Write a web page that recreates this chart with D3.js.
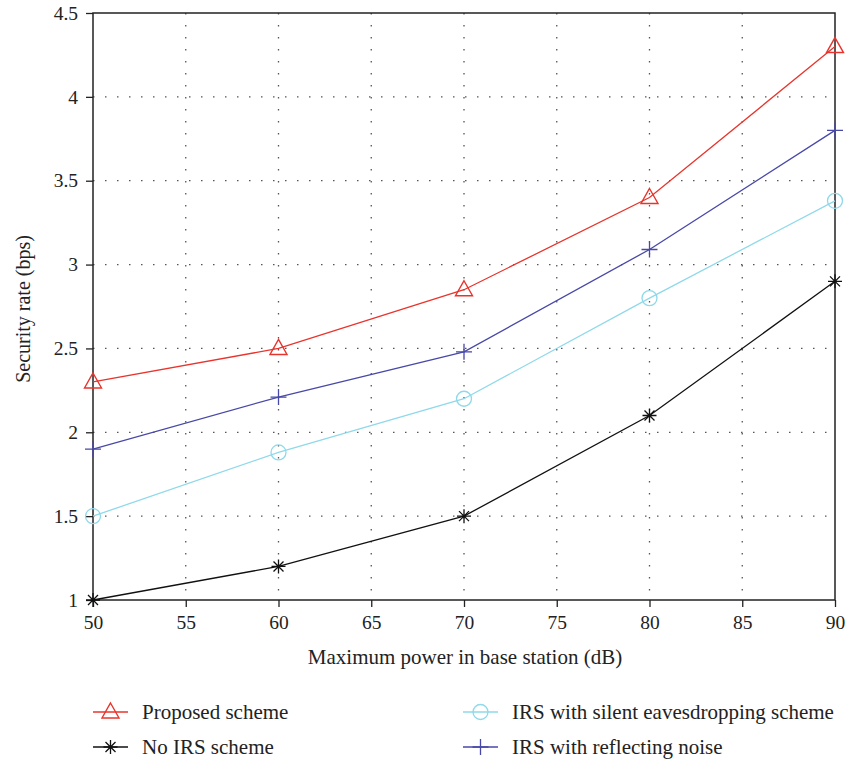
<!DOCTYPE html>
<html>
<head>
<meta charset="utf-8">
<script src="https://cdn.jsdelivr.net/npm/d3@7"></script>
<style>
  body { margin: 0; background: #fff; }
  svg text { font-family: "Liberation Serif", "DejaVu Serif", serif; fill: #222; }
</style>
</head>
<body>
<div id="chart"></div>
<script>
// data
const powers = [50, 60, 70, 80, 90];
const proposed = [2.3, 2.5, 2.85, 3.4, 4.3];
const noIrs = [1.0, 1.2, 1.5, 2.1, 2.9];
const silent = [1.5, 1.88, 2.2, 2.8, 3.38];
const reflecting = [1.9, 2.21, 2.48, 3.09, 3.8];
const xTicks = [50, 55, 60, 65, 70, 75, 80, 85, 90];
const yTicks = [1, 1.5, 2, 2.5, 3, 3.5, 4, 4.5];

const series = [
  { name: 'Proposed scheme', values: proposed, color: '#e8342c', marker: 'triangle' },
  { name: 'No IRS scheme', values: noIrs, color: '#111111', marker: 'star' },
  { name: 'IRS with silent eavesdropping scheme', values: silent, color: '#8fd9ea', marker: 'circle' },
  { name: 'IRS with reflecting noise', values: reflecting, color: '#4848a8', marker: 'plus' }
];

const W = 850, H = 764;
const margin = { top: 13, right: 15, bottom: 164, left: 93 };
const width = W - margin.left - margin.right;
const height = H - margin.top - margin.bottom;

const svg = d3.select('#chart').append('svg')
  .attr('width', W)
  .attr('height', H);

const g = svg.append('g')
  .attr('transform', 'translate(' + margin.left + ',' + margin.top + ')');

const x = d3.scaleLinear().domain([50, 90]).range([0, width]);
const y = d3.scaleLinear().domain([1, 4.5]).range([height, 0]);

// dotted grid
g.append('g').selectAll('line')
  .data(xTicks.slice(1, -1))
  .enter().append('line')
  .attr('x1', d => x(d)).attr('x2', d => x(d))
  .attr('y1', 0).attr('y2', height)
  .attr('stroke', '#555').attr('stroke-width', 1.3)
  .attr('stroke-dasharray', '1.5,10.5');

g.append('g').selectAll('line')
  .data(yTicks.slice(1, -1))
  .enter().append('line')
  .attr('x1', 0).attr('x2', width)
  .attr('y1', d => y(d)).attr('y2', d => y(d))
  .attr('stroke', '#555').attr('stroke-width', 1.3)
  .attr('stroke-dasharray', '1.5,10.5');

// axes
const xAxis = g.append('g')
  .attr('transform', 'translate(0,' + height + ')')
  .call(d3.axisBottom(x).tickValues(xTicks).tickSize(7).tickPadding(8).tickFormat(d3.format('d')));
const yAxis = g.append('g')
  .call(d3.axisLeft(y).tickValues(yTicks).tickSize(7).tickPadding(8).tickFormat(d => String(d)));

[xAxis, yAxis].forEach(a => {
  a.select('.domain').remove();
  a.selectAll('line').attr('stroke', '#222').attr('stroke-width', 1.3);
  a.selectAll('text').style('font-size', '19.5px').attr('fill', '#222');
});

// frame
g.append('rect')
  .attr('x', 0).attr('y', 0)
  .attr('width', width).attr('height', height)
  .attr('fill', 'none').attr('stroke', '#222').attr('stroke-width', 1.5);

// markers
function drawMarker(sel, type, color) {
  if (type === 'triangle') {
    sel.append('path').attr('d', 'M0,-9 L8.5,6 L-8.5,6 Z')
      .attr('fill', 'none').attr('stroke', color).attr('stroke-width', 1.4);
  } else if (type === 'circle') {
    sel.append('circle').attr('r', 7.5)
      .attr('fill', 'none').attr('stroke', color).attr('stroke-width', 1.3);
  } else if (type === 'plus') {
    sel.append('path').attr('d', 'M-8,0 L8,0 M0,-8 L0,8')
      .attr('fill', 'none').attr('stroke', color).attr('stroke-width', 1.3);
  } else if (type === 'star') {
    sel.append('path').attr('d', 'M-7,0 L7,0 M0,-7 L0,7 M-5,-5 L5,5 M-5,5 L5,-5')
      .attr('fill', 'none').attr('stroke', color).attr('stroke-width', 1.3);
  }
}

const line = d3.line()
  .x((d, i) => x(powers[i]))
  .y(d => y(d));

series.forEach(s => {
  g.append('path')
    .datum(s.values)
    .attr('d', line)
    .attr('fill', 'none')
    .attr('stroke', s.color)
    .attr('stroke-width', 1.3);
  g.append('g').selectAll('g')
    .data(s.values)
    .enter().append('g')
    .attr('transform', (d, i) => 'translate(' + x(powers[i]) + ',' + y(d) + ')')
    .each(function () { drawMarker(d3.select(this), s.marker, s.color); });
});

// axis labels
svg.append('text')
  .attr('x', 465)
  .attr('y', 664)
  .style('text-anchor', 'middle')
  .style('font-size', '21px')
  .text('Maximum power in base station (dB)');

svg.append('text')
  .attr('transform', 'rotate(-90)')
  .attr('x', -309)
  .attr('y', 30)
  .style('text-anchor', 'middle')
  .style('font-size', '20px')
  .text('Security rate (bps)');

// legend
const legendPos = [
  { x: 93, y: 712 },
  { x: 93, y: 747 },
  { x: 463, y: 712 },
  { x: 463, y: 747 }
];
series.forEach((s, i) => {
  const p = legendPos[i];
  const lg = svg.append('g').attr('transform', 'translate(' + p.x + ',' + p.y + ')');
  lg.append('line').attr('x1', 0).attr('x2', 35).attr('y1', 0).attr('y2', 0)
    .attr('stroke', s.color).attr('stroke-width', 1.3);
  drawMarker(lg.append('g').attr('transform', 'translate(17.5,0)'), s.marker, s.color);
  lg.append('text').attr('x', 49).attr('y', 7)
    .style('font-size', '21px')
    .text(s.name);
});
</script>
</body>
</html>
